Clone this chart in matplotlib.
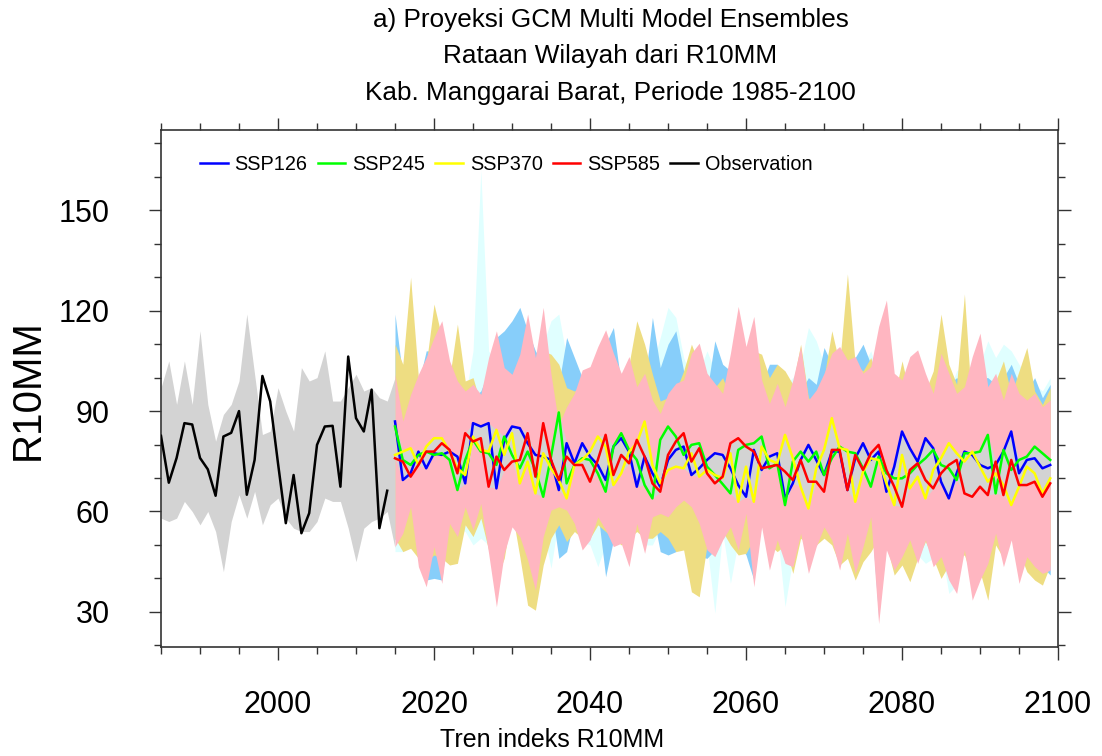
import numpy as np
import matplotlib
matplotlib.use("Agg")
import matplotlib.pyplot as plt
from matplotlib.ticker import MultipleLocator

# ---------------- data ----------------
obs_years = list(range(1985, 2015))
obs = [82.6, 68.6, 76.0, 86.4, 86.0, 76.0, 72.6, 64.7, 82.4, 83.5,
       90.0, 65.0, 75.4, 100.5, 92.9, 74.4, 56.5, 70.9, 53.5, 59.5,
       79.9, 85.4, 85.6, 67.4, 106.3, 87.9, 83.9, 96.4, 55.0, 66.2]

hist_years = list(range(1985, 2016))
hist_hi = [97, 105, 92, 105, 92, 114, 92, 81, 89, 92,
           99, 119, 101, 83, 84, 97, 90, 84, 103, 99,
           100, 108, 93, 93, 97, 101, 96, 97, 94, 93, 100]
hist_lo = [58, 57, 58, 63, 60, 56, 60, 54, 42, 57,
           65, 58, 66, 56, 62, 64, 58, 55, 54, 54,
           57, 64, 63, 63, 55, 45, 55, 57, 58, 60, 49]

proj_years = list(range(2015, 2100))

ssp126 = [86.9, 69.4, 71.4, 77.9, 72.9, 77.4, 76.9, 77.9, 76.4, 68.4,
          86.4, 85.4, 86.4, 66.9, 81.4, 85.4, 84.9, 80.4, 76.9, 76.4,
          75.4, 66.4, 80.4, 74.4, 80.4, 76.4, 73.9, 69.4, 79.4, 81.9,
          77.9, 67.4, 76.4, 71.4, 67.4, 75.4, 78.4, 79.4, 70.9, 72.9,
          75.4, 77.4, 76.9, 72.9, 67.9, 64.4, 78.4, 72.4, 76.4, 77.4,
          63.9, 68.4, 75.4, 79.9, 75.4, 70.9, 77.9, 77.9, 66.4, 75.9,
          80.4, 75.4, 77.9, 65.9, 73.4, 83.9, 78.9, 74.9, 81.9, 78.9,
          68.9, 63.9, 71.4, 77.9, 76.9, 73.9, 72.9, 73.9, 77.9, 83.9,
          71.4, 75.4, 75.9, 72.9, 73.9]
ssp245 = [85.4, 75.4, 73.9, 76.9, 77.9, 76.9, 77.4, 75.4, 66.4, 75.4,
          81.4, 77.9, 77.4, 73.9, 82.4, 76.9, 72.9, 77.9, 72.4, 64.4,
          76.4, 89.6, 68.4, 73.9, 75.9, 75.4, 71.4, 65.9, 79.4, 83.4,
          78.4, 75.4, 67.9, 63.9, 81.4, 85.4, 82.4, 76.9, 79.9, 80.4,
          73.4, 70.9, 68.2, 65.4, 78.4, 79.9, 80.4, 82.4, 72.9, 74.4,
          61.9, 74.9, 77.9, 74.9, 77.9, 70.9, 75.9, 79.4, 77.9, 77.4,
          72.9, 67.4, 76.4, 71.4, 69.9, 69.9, 71.4, 73.9, 75.9, 78.4,
          73.9, 72.9, 69.4, 77.4, 77.4, 77.9, 82.9, 65.4, 78.4, 72.4,
          75.4, 76.4, 79.4, 77.4, 75.4]
ssp370 = [76.9, 77.9, 78.9, 73.9, 79.4, 81.9, 81.9, 77.9, 72.9, 70.9,
          82.4, 78.4, 77.9, 84.4, 76.9, 83.4, 68.4, 74.9, 65.4, 77.4,
          72.9, 69.4, 63.9, 73.9, 75.4, 77.9, 82.4, 79.4, 67.9, 71.4,
          77.9, 80.4, 86.9, 73.9, 68.4, 72.4, 73.4, 72.9, 77.4, 70.4,
          72.4, 70.9, 70.0, 77.4, 62.9, 73.4, 62.9, 79.4, 75.4, 74.4,
          82.9, 75.9, 67.4, 60.9, 72.9, 78.4, 87.9, 78.9, 78.4, 62.9,
          71.9, 75.9, 75.4, 68.4, 61.9, 76.9, 66.9, 70.4, 63.9, 72.4,
          75.9, 80.4, 77.4, 74.9, 77.9, 73.4, 68.9, 71.4, 67.9, 61.9,
          67.4, 73.4, 71.4, 65.4, 69.9]
ssp585 = [75.9, 74.9, 70.4, 73.9, 77.9, 77.9, 80.4, 78.4, 71.4, 83.4,
          80.9, 81.9, 67.4, 76.4, 72.4, 74.9, 75.4, 83.4, 70.4, 86.4,
          75.4, 69.4, 76.4, 73.9, 73.9, 68.9, 75.4, 82.9, 70.9, 76.9,
          74.4, 81.4, 76.4, 68.4, 65.9, 76.9, 80.9, 83.4, 74.9, 78.9,
          71.4, 68.4, 70.4, 80.4, 81.9, 79.4, 77.9, 72.9, 73.4, 73.9,
          71.9, 69.4, 75.4, 68.9, 68.9, 65.9, 78.4, 78.4, 66.4, 76.9,
          72.4, 77.4, 79.9, 72.4, 67.4, 61.4, 72.4, 74.4, 69.4, 66.9,
          71.4, 73.9, 75.4, 65.4, 64.4, 67.4, 64.9, 74.9, 64.9, 75.4,
          67.9, 67.9, 68.9, 64.4, 68.4]

# ensemble spreads (max / min of models)
ssp126_hi = [96, 90, 92, 96, 100, 104, 110, 98, 94, 94,
             108, 162, 108, 104, 100, 100, 104, 108, 104, 110,
             117, 119, 106, 100, 98, 102, 104, 100, 100, 96,
             100, 94, 96, 104, 112, 121, 118, 106, 100, 102,
             108, 102, 98, 100, 104, 100, 98, 102, 100, 96,
             98, 100, 104, 115, 111, 104, 100, 102, 100, 98,
             104, 108, 100, 98, 96, 100, 104, 100, 95, 100,
             98, 96, 102, 104, 100, 104, 111, 106, 110, 108,
             104, 100, 98, 96, 100]
ssp126_lo = [48, 48, 58, 47, 41, 52, 42, 58, 55, 54,
             50, 52, 50, 36, 50, 58, 55, 48, 40, 55,
             43, 58, 60, 58, 51, 50, 43.5, 50, 52, 53,
             46, 58, 50, 50, 55, 55, 56, 62, 60, 58,
             50, 29.6, 54, 38.5, 51, 56, 40, 58, 45, 54,
             31.5, 46, 56, 44, 52, 58, 54, 45, 56, 44,
             52, 60, 30, 51, 45, 49, 54, 47, 44.5, 46,
             49, 35.5, 38, 51, 36, 42, 47, 56, 46, 54,
             41, 49, 46, 44, 45]
ssp245_hi = [119, 100, 110, 98, 108, 108, 110, 102, 96, 93,
             94, 96, 102, 112, 114, 117, 121, 114, 108, 104,
             100, 98, 112, 106, 100, 100, 104, 110, 115, 98,
             102, 96, 98, 118, 103, 110, 114, 102, 100, 106,
             96, 111, 104, 102, 98, 102, 100, 98, 104, 104,
             96, 98, 96, 100, 98, 109, 104, 100, 104, 106,
             110, 104, 100, 96, 98, 98, 104, 102, 98, 98,
             97, 98, 100, 98, 96, 100, 100, 98, 100, 104,
             98, 96, 100, 94, 98]
ssp245_lo = [51.5, 55.5, 63, 45.5, 39.5, 40, 39.5, 58, 54.5, 63,
             56.5, 64, 49.5, 33.5, 49.5, 57, 54.5, 47.5, 38.5, 54.5,
             62, 46, 48, 58, 50.5, 53.5, 60, 40.5, 51.5, 52.5,
             45.5, 58, 49.5, 60, 48, 47, 48, 65, 63, 46.5,
             46, 48.5, 53.5, 57, 50.5, 47, 39.5, 57, 44.5, 53.5,
             46.5, 45.5, 55.5, 43.5, 51.5, 57, 53.5, 44.5, 55.5, 43.5,
             51.5, 60, 28.5, 50.5, 44.5, 48.5, 53.5, 46.5, 53.5, 45.5,
             48.5, 41.5, 37.5, 50.5, 35.5, 41.5, 46.5, 55.5, 45.5, 53.5,
             40.5, 48.5, 45.5, 43.5, 41]
ssp370_hi = [110, 104, 130, 100, 104, 122, 112, 100, 116, 99,
             100, 92, 100, 106, 96, 95, 100, 96, 103, 108,
             107, 104, 97, 96, 98, 100, 104, 110, 104, 98,
             104, 117, 110, 101, 93, 94, 96, 102, 110, 104,
             100, 97, 100, 94, 105, 100, 108, 107, 100, 104,
             102, 98, 110, 94, 92, 100, 114, 104, 131, 104,
             102, 106, 98, 102, 94, 105, 95, 100, 96, 102,
             119, 104, 98, 125, 90, 108, 96, 99, 105, 95,
             102, 109, 96, 92, 97]
ssp370_lo = [52, 48, 49, 46, 45, 47, 46, 44, 44.5, 56,
             52.5, 58, 48.5, 40, 46, 60, 46.5, 32, 30.5, 44,
             52, 56, 51, 54, 52, 52, 56, 54, 52, 50,
             52, 54, 52, 52, 54, 52, 48, 48.5, 36, 34.5,
             50, 52, 54, 50, 47, 47.5, 52, 56, 50, 48,
             50, 41.5, 52, 50, 50, 52, 50, 44, 46, 39.5,
             45, 48, 52, 50, 41, 44, 39, 46, 51, 46,
             40, 44, 46, 47, 40, 42, 33.5, 50, 46, 56,
             48, 42, 39.5, 38, 44]
ssp585_hi = [101, 87, 95, 101, 106, 112, 117, 105, 99, 96,
             98, 95, 106, 114, 103, 101, 107, 119, 106, 121,
             101, 86, 91.3, 95.3, 102.3, 103.3, 109.3, 114.3, 107.3, 101.3,
             106.3, 97.3, 101.3, 93.3, 89.3, 95.3, 98.3, 99.3, 107.3, 110.3,
             101.3, 98.3, 95.3, 107.3, 121.3, 109.3, 118.3, 99.3, 92.3, 98.3,
             91.3, 99.3, 109.3, 93.3, 96.3, 101.3, 107.3, 109.3, 105.3, 106.3,
             101.3, 103.3, 115.3, 123.2, 101.3, 99.3, 106.3, 108.3, 101.3, 95.3,
             107.3, 101.3, 95.3, 97.3, 106.3, 113.3, 97.3, 101.3, 93.3, 101.3,
             95.3, 93.3, 95.3, 91.3, 93.3]
ssp585_lo = [49.5, 53.5, 61.4, 43.5, 37.5, 49.5, 38.5, 56.4, 52.5, 61.4,
             54.5, 62.4, 47.5, 31.5, 47.5, 55.4, 52.5, 45.5, 36.5, 52.5,
             60.4, 61.4, 60.4, 56.4, 48.5, 51.5, 58.4, 54.5, 49.5, 50.5,
             43.5, 56.4, 47.5, 58.4, 59.4, 58.4, 61.4, 63.4, 61.4, 56.4,
             48.5, 46.5, 51.5, 55.4, 48.5, 59.4, 37.5, 55.4, 42.5, 51.5,
             44.5, 43.5, 53.5, 41.5, 49.5, 55.4, 51.5, 42.5, 53.5, 41.5,
             49.5, 58.4, 26.5, 48.5, 42.5, 46.5, 51.5, 44.5, 51.5, 43.5,
             46.5, 39.5, 35.5, 48.5, 33.5, 39.5, 44.5, 53.5, 43.5, 51.5,
             38.5, 46.5, 43.5, 41.5, 42.5]

# ---------------- plot ----------------
plt.rcParams['font.family'] = ['Liberation Sans', 'DejaVu Sans']

fig = plt.figure(figsize=(11.02, 7.56), dpi=100)
ax = fig.add_axes([0.1461, 0.1442, 0.9601 - 0.1461, 0.828 - 0.1442])

ax.fill_between(hist_years, hist_lo, hist_hi, color='#D3D3D3', lw=0, zorder=1)
ax.fill_between(proj_years, ssp126_lo, ssp126_hi, color='#E0FFFF', lw=0, zorder=2)
ax.fill_between(proj_years, ssp245_lo, ssp245_hi, color='#87CEFA', lw=0, zorder=3)
ax.fill_between(proj_years, ssp370_lo, ssp370_hi, color='#EEDD82', lw=0, zorder=4)
ax.fill_between(proj_years, ssp585_lo, ssp585_hi, color='#FFB6C1', lw=0, zorder=5)

means = np.array([ssp126, ssp245, ssp370, ssp585])
ax.fill_between(proj_years, means.min(axis=0), means.max(axis=0),
                color='#D3D3D3', lw=0, zorder=6)

lw = 1.8
ax.plot(proj_years, ssp126, color='#0000FF', lw=lw, label='SSP126', zorder=7)
ax.plot(proj_years, ssp245, color='#00FF00', lw=lw, label='SSP245', zorder=7)
ax.plot(proj_years, ssp370, color='#FFFF00', lw=lw, label='SSP370', zorder=7)
ax.plot(proj_years, ssp585, color='#FF0000', lw=lw, label='SSP585', zorder=7)
ax.plot(obs_years, obs, color='black', lw=lw, label='Observation', zorder=8)

ax.set_xlim(1985, 2100)
ax.set_ylim(19.5, 174)
ax.xaxis.set_minor_locator(MultipleLocator(5))
ax.yaxis.set_minor_locator(MultipleLocator(10))
ax.set_xticks([2000, 2020, 2040, 2060, 2080, 2100])
ax.set_yticks([30, 60, 90, 120, 150])

ax.tick_params(which='both', direction='out', top=True, right=True,
               width=1.0, color='#333333')
ax.tick_params(axis='x', which='major', length=9, labelsize=22, pad=22)
ax.tick_params(axis='y', which='major', length=9, labelsize=22, pad=28)
ax.tick_params(which='minor', length=5)
for s in ax.spines.values():
    s.set_linewidth(1.2)
    s.set_color('#333333')

leg = ax.legend(loc='upper left', bbox_to_anchor=(0.03, 0.975), ncol=5,
                frameon=False, fontsize=14.3, handlelength=1.4,
                handletextpad=0.35, columnspacing=0.5, borderaxespad=0.2)

fig.text(0.554, 1 - 20 / 756, 'a) Proyeksi GCM Multi Model Ensembles',
         ha='center', va='center', fontsize=18.8)
fig.text(0.554, 1 - 56 / 756, 'Rataan Wilayah dari R10MM',
         ha='center', va='center', fontsize=18.8)
fig.text(0.554, 1 - 93 / 756, 'Kab. Manggarai Barat, Periode 1985-2100',
         ha='center', va='center', fontsize=18.8)
fig.text(552 / 1102, 1 - 740 / 756, 'Tren indeks R10MM',
         ha='center', va='center', fontsize=18)
fig.text(28 / 1102, 1 - 390 / 756, 'R10MM', rotation=90,
         ha='center', va='center', fontsize=29)

fig.savefig('out.png', dpi=100)
